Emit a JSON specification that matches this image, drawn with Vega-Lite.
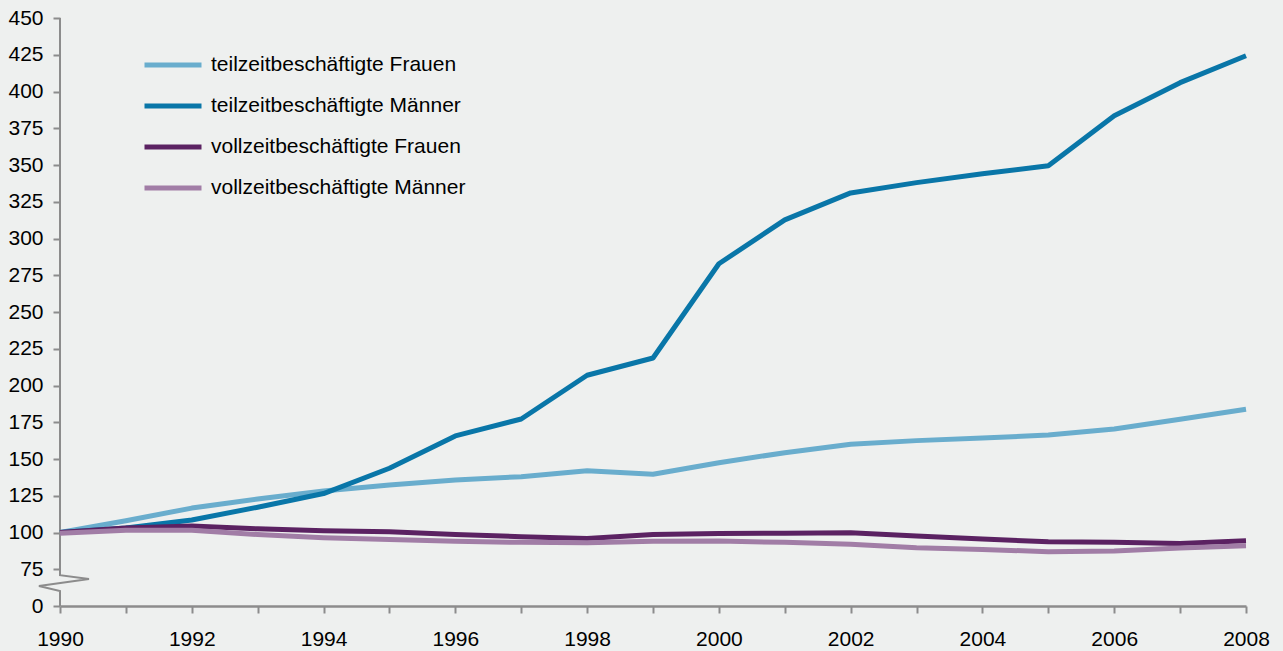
{
  "$schema": "https://vega.github.io/schema/vega-lite/v6.json",
  "width": 1186,
  "height": 588,
  "autosize": {"type": "none"},
  "padding": {"left": 60, "top": 18, "right": 37, "bottom": 45},
  "background": "#EEF0EF",
  "config": {
    "view": {"stroke": null},
    "font": "Liberation Sans",
    "axis": {"labelFont": "Liberation Sans", "labelFontSize": 21, "labelColor": "#000000", "grid": false, "domainColor": "#8C8C8C", "tickColor": "#8C8C8C", "tickWidth": 2, "domainWidth": 2.5, "tickSize": 7, "title": null},
    "legend": {"labelFont": "Liberation Sans", "labelFontSize": 21, "labelColor": "#000000", "labelLimit": 0}
  },
  "datasets": {
    "series": [
      {"year": 1990, "series": "teilzeitbeschäftigte Frauen", "value": 100},
      {"year": 1991, "series": "teilzeitbeschäftigte Frauen", "value": 108},
      {"year": 1992, "series": "teilzeitbeschäftigte Frauen", "value": 116.6},
      {"year": 1993, "series": "teilzeitbeschäftigte Frauen", "value": 122.8},
      {"year": 1994, "series": "teilzeitbeschäftigte Frauen", "value": 128.2},
      {"year": 1995, "series": "teilzeitbeschäftigte Frauen", "value": 132.3},
      {"year": 1996, "series": "teilzeitbeschäftigte Frauen", "value": 135.7},
      {"year": 1997, "series": "teilzeitbeschäftigte Frauen", "value": 138},
      {"year": 1998, "series": "teilzeitbeschäftigte Frauen", "value": 142},
      {"year": 1999, "series": "teilzeitbeschäftigte Frauen", "value": 139.6},
      {"year": 2000, "series": "teilzeitbeschäftigte Frauen", "value": 147.5},
      {"year": 2001, "series": "teilzeitbeschäftigte Frauen", "value": 154.3},
      {"year": 2002, "series": "teilzeitbeschäftigte Frauen", "value": 160},
      {"year": 2003, "series": "teilzeitbeschäftigte Frauen", "value": 162.5},
      {"year": 2004, "series": "teilzeitbeschäftigte Frauen", "value": 164.3},
      {"year": 2005, "series": "teilzeitbeschäftigte Frauen", "value": 166.3},
      {"year": 2006, "series": "teilzeitbeschäftigte Frauen", "value": 170.4},
      {"year": 2007, "series": "teilzeitbeschäftigte Frauen", "value": 177},
      {"year": 2008, "series": "teilzeitbeschäftigte Frauen", "value": 183.8},
      {"year": 1990, "series": "teilzeitbeschäftigte Männer", "value": 100},
      {"year": 1991, "series": "teilzeitbeschäftigte Männer", "value": 103},
      {"year": 1992, "series": "teilzeitbeschäftigte Männer", "value": 108.5},
      {"year": 1993, "series": "teilzeitbeschäftigte Männer", "value": 117.2},
      {"year": 1994, "series": "teilzeitbeschäftigte Männer", "value": 126.5},
      {"year": 1995, "series": "teilzeitbeschäftigte Männer", "value": 143.7},
      {"year": 1996, "series": "teilzeitbeschäftigte Männer", "value": 165.7},
      {"year": 1997, "series": "teilzeitbeschäftigte Männer", "value": 177.2},
      {"year": 1998, "series": "teilzeitbeschäftigte Männer", "value": 207},
      {"year": 1999, "series": "teilzeitbeschäftigte Männer", "value": 218.7},
      {"year": 2000, "series": "teilzeitbeschäftigte Männer", "value": 282.8},
      {"year": 2001, "series": "teilzeitbeschäftigte Männer", "value": 312.7},
      {"year": 2002, "series": "teilzeitbeschäftigte Männer", "value": 331},
      {"year": 2003, "series": "teilzeitbeschäftigte Männer", "value": 338},
      {"year": 2004, "series": "teilzeitbeschäftigte Männer", "value": 344},
      {"year": 2005, "series": "teilzeitbeschäftigte Männer", "value": 349.5},
      {"year": 2006, "series": "teilzeitbeschäftigte Männer", "value": 383.5},
      {"year": 2007, "series": "teilzeitbeschäftigte Männer", "value": 406},
      {"year": 2008, "series": "teilzeitbeschäftigte Männer", "value": 424.3},
      {"year": 1990, "series": "vollzeitbeschäftigte Frauen", "value": 100},
      {"year": 1991, "series": "vollzeitbeschäftigte Frauen", "value": 103},
      {"year": 1992, "series": "vollzeitbeschäftigte Frauen", "value": 104.4},
      {"year": 1993, "series": "vollzeitbeschäftigte Frauen", "value": 102.5},
      {"year": 1994, "series": "vollzeitbeschäftigte Frauen", "value": 101.2},
      {"year": 1995, "series": "vollzeitbeschäftigte Frauen", "value": 100.5},
      {"year": 1996, "series": "vollzeitbeschäftigte Frauen", "value": 98.7},
      {"year": 1997, "series": "vollzeitbeschäftigte Frauen", "value": 97.1},
      {"year": 1998, "series": "vollzeitbeschäftigte Frauen", "value": 96},
      {"year": 1999, "series": "vollzeitbeschäftigte Frauen", "value": 98.7},
      {"year": 2000, "series": "vollzeitbeschäftigte Frauen", "value": 99.4},
      {"year": 2001, "series": "vollzeitbeschäftigte Frauen", "value": 99.5},
      {"year": 2002, "series": "vollzeitbeschäftigte Frauen", "value": 99.8},
      {"year": 2003, "series": "vollzeitbeschäftigte Frauen", "value": 97.6},
      {"year": 2004, "series": "vollzeitbeschäftigte Frauen", "value": 95.6},
      {"year": 2005, "series": "vollzeitbeschäftigte Frauen", "value": 93.7},
      {"year": 2006, "series": "vollzeitbeschäftigte Frauen", "value": 93.3},
      {"year": 2007, "series": "vollzeitbeschäftigte Frauen", "value": 92.6},
      {"year": 2008, "series": "vollzeitbeschäftigte Frauen", "value": 94.4},
      {"year": 1990, "series": "vollzeitbeschäftigte Männer", "value": 99.5},
      {"year": 1991, "series": "vollzeitbeschäftigte Männer", "value": 101.5},
      {"year": 1992, "series": "vollzeitbeschäftigte Männer", "value": 101.6},
      {"year": 1993, "series": "vollzeitbeschäftigte Männer", "value": 98.6},
      {"year": 1994, "series": "vollzeitbeschäftigte Männer", "value": 96.5},
      {"year": 1995, "series": "vollzeitbeschäftigte Männer", "value": 95.3},
      {"year": 1996, "series": "vollzeitbeschäftigte Männer", "value": 94},
      {"year": 1997, "series": "vollzeitbeschäftigte Männer", "value": 93.3},
      {"year": 1998, "series": "vollzeitbeschäftigte Männer", "value": 93},
      {"year": 1999, "series": "vollzeitbeschäftigte Männer", "value": 94},
      {"year": 2000, "series": "vollzeitbeschäftigte Männer", "value": 94.2},
      {"year": 2001, "series": "vollzeitbeschäftigte Männer", "value": 93.3},
      {"year": 2002, "series": "vollzeitbeschäftigte Männer", "value": 92},
      {"year": 2003, "series": "vollzeitbeschäftigte Männer", "value": 89.7},
      {"year": 2004, "series": "vollzeitbeschäftigte Männer", "value": 88.5},
      {"year": 2005, "series": "vollzeitbeschäftigte Männer", "value": 86.9},
      {"year": 2006, "series": "vollzeitbeschäftigte Männer", "value": 87.4},
      {"year": 2007, "series": "vollzeitbeschäftigte Männer", "value": 89.5},
      {"year": 2008, "series": "vollzeitbeschäftigte Männer", "value": 91}
    ],
    "axisbreak": [
      {"order": 1, "year": 1990, "value": 450},
      {"order": 2, "year": 1990, "value": 71},
      {"order": 3, "year": 1990.44, "value": 68.3},
      {"order": 4, "year": 1989.68, "value": 63.6},
      {"order": 5, "year": 1990, "value": 60.2},
      {"order": 6, "year": 1990, "value": 50}
    ]
  },
  "encoding": {
    "x": {
      "field": "year", "type": "quantitative",
      "scale": {"domain": [1990, 2008], "nice": false, "zero": false},
      "axis": {
        "values": [1990, 1991, 1992, 1993, 1994, 1995, 1996, 1997, 1998, 1999, 2000, 2001, 2002, 2003, 2004, 2005, 2006, 2007, 2008],
        "format": "d",
        "labelExpr": "datum.value % 2 == 0 ? datum.label : ''",
        "labelPadding": 15,
        "labelOverlap": false,
        "labelFlush": false
      }
    },
    "y": {
      "field": "value", "type": "quantitative",
      "scale": {"domain": [50, 450], "nice": false, "zero": false},
      "axis": {
        "values": [50, 75, 100, 125, 150, 175, 200, 225, 250, 275, 300, 325, 350, 375, 400, 425, 450],
        "labelExpr": "datum.value == 50 ? '0' : datum.label",
        "domain": false,
        "labelPadding": 10,
        "labelOverlap": false,
        "labelFlush": false
      }
    }
  },
  "layer": [
    {
      "data": {"name": "axisbreak"},
      "mark": {"type": "line", "color": "#8C8C8C", "strokeWidth": 2, "clip": false},
      "encoding": {
        "order": {"field": "order"}
      }
    },
    {
      "data": {"name": "series"},
      "mark": {"type": "line", "strokeWidth": 5, "strokeJoin": "round"},
      "encoding": {
        "color": {
          "field": "series", "type": "nominal",
          "scale": {
            "domain": ["teilzeitbeschäftigte Frauen", "teilzeitbeschäftigte Männer", "vollzeitbeschäftigte Frauen", "vollzeitbeschäftigte Männer"],
            "range": ["#69ADCD", "#0976A8", "#5B2262", "#A17DA6"]
          },
          "legend": {
            "title": null,
            "orient": "none",
            "legendX": 82,
            "legendY": 16,
            "symbolType": "stroke",
            "symbolSize": 3249,
            "symbolStrokeWidth": 5,
            "labelOffset": 7,
            "rowPadding": -13
          }
        }
      }
    }
  ]
}
